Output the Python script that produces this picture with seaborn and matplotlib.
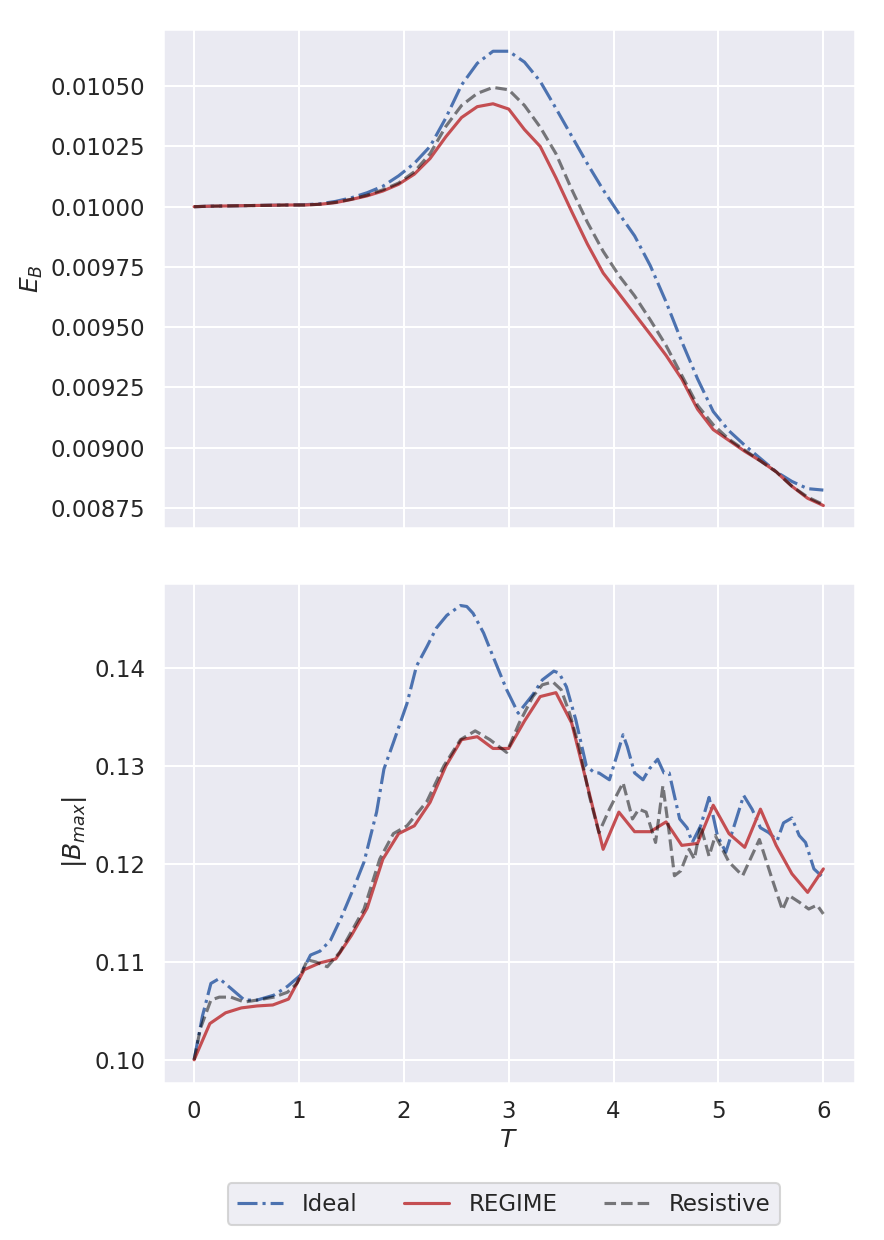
import numpy as np
import pandas as pd
import matplotlib
matplotlib.use("Agg")
import matplotlib.pyplot as plt
import seaborn as sns

# ---------------- data ----------------
t_coarse = [0.0, 0.15, 0.3, 0.45, 0.6, 0.75, 0.9, 1.05, 1.2, 1.35, 1.5, 1.65, 1.8, 1.95,
            2.1, 2.25, 2.4, 2.55, 2.7, 2.85, 3.0, 3.15, 3.3, 3.45, 3.6, 3.75, 3.9, 4.05,
            4.2, 4.35, 4.5, 4.65, 4.8, 4.95, 5.1, 5.25, 5.4, 5.55, 5.7, 5.85, 6.0]

eb_ideal = [0.010000, 0.010002, 0.010003, 0.010004, 0.010005, 0.010006, 0.010007, 0.010008,
            0.010012, 0.010022, 0.010037, 0.010058, 0.010085, 0.010128, 0.010180, 0.010250,
            0.010368, 0.010505, 0.010595, 0.010645, 0.010645, 0.010600, 0.010520, 0.010408,
            0.010293, 0.010178, 0.010070, 0.009972, 0.009879, 0.009755, 0.009605, 0.009440,
            0.009286, 0.009150, 0.009070, 0.009010, 0.008955, 0.008900, 0.008860, 0.008830,
            0.008824]
eb_regime = [0.010000, 0.010002, 0.010003, 0.010004, 0.010005, 0.010006, 0.010007, 0.010007,
             0.010010, 0.010017, 0.010030, 0.010045, 0.010065, 0.010093, 0.010135, 0.010200,
             0.010290, 0.010370, 0.010415, 0.010427, 0.010405, 0.010320, 0.010250, 0.010120,
             0.009980, 0.009845, 0.009725, 0.009640, 0.009555, 0.009470, 0.009383, 0.009285,
             0.009160, 0.009075, 0.009030, 0.008985, 0.008945, 0.008900, 0.008840, 0.008790,
             0.008760]
eb_resistive = [0.010000, 0.010002, 0.010003, 0.010004, 0.010005, 0.010006, 0.010007, 0.010007,
                0.010010, 0.010018, 0.010031, 0.010048, 0.010070, 0.010098, 0.010145, 0.010220,
                0.010333, 0.010420, 0.010470, 0.010495, 0.010485, 0.010420, 0.010330, 0.010220,
                0.010072, 0.009935, 0.009815, 0.009715, 0.009630, 0.009530, 0.009424, 0.009300,
                0.009176, 0.009095, 0.009035, 0.008990, 0.008945, 0.008900, 0.008840, 0.008795,
                0.008764]

bmax_regime = [0.1000, 0.1037, 0.1048, 0.1053, 0.1055, 0.1056, 0.1062, 0.1092, 0.1099, 0.1103,
               0.1127, 0.1155, 0.1205, 0.1231, 0.1239, 0.1263, 0.1300, 0.1327, 0.1330, 0.1318,
               0.1318, 0.1346, 0.1371, 0.1375, 0.1344, 0.1280, 0.1215, 0.1253, 0.1233, 0.1233,
               0.1243, 0.1219, 0.1221, 0.1260, 0.1231, 0.1217, 0.1256, 0.1219, 0.1190, 0.1171,
               0.1195]

t_ideal = [0.0, 0.08, 0.16, 0.24, 0.35, 0.48, 0.6, 0.76, 0.89, 1.01, 1.11, 1.2, 1.3, 1.41,
           1.52, 1.62, 1.74, 1.81, 1.9, 2.03, 2.12, 2.22, 2.31, 2.41, 2.54, 2.6, 2.66, 2.76,
           2.85, 2.98, 3.09, 3.23, 3.32, 3.43, 3.48, 3.55, 3.64, 3.74, 3.82, 3.86, 3.96, 4.04,
           4.09, 4.13, 4.2, 4.28, 4.34, 4.42, 4.48, 4.53, 4.63, 4.7, 4.75, 4.83, 4.91, 4.99,
           5.07, 5.17, 5.24, 5.32, 5.4, 5.48, 5.56, 5.62, 5.7, 5.77, 5.83, 5.91, 6.0]
bmax_ideal = [0.1000, 0.1045, 0.1078, 0.1083, 0.1073, 0.1061, 0.1061, 0.1066, 0.1075, 0.1086,
              0.1107, 0.1111, 0.1122, 0.1147, 0.1175, 0.1202, 0.1253, 0.1297, 0.1324, 0.1364,
              0.1402, 0.1422, 0.1441, 0.1454, 0.1464, 0.1463, 0.1456, 0.1436, 0.1412, 0.1378,
              0.1354, 0.1373, 0.1388, 0.1397, 0.1395, 0.1381, 0.1347, 0.1300, 0.1293, 0.1293,
              0.1286, 0.1314, 0.1332, 0.1320, 0.1293, 0.1286, 0.1297, 0.1307, 0.1293, 0.1293,
              0.1246, 0.1237, 0.1222, 0.1239, 0.1268, 0.1229, 0.1212, 0.1246, 0.1270, 0.1256,
              0.1237, 0.1232, 0.1224, 0.1242, 0.1247, 0.1229, 0.1222, 0.1195, 0.1186]

t_resistive = [0.0, 0.06, 0.16, 0.24, 0.35, 0.48, 0.6, 0.76, 0.89, 0.98, 1.08, 1.16, 1.27,
               1.39, 1.49, 1.62, 1.77, 1.9, 2.03, 2.22, 2.38, 2.54, 2.68, 2.82, 2.98, 3.1,
               3.23, 3.32, 3.42, 3.5, 3.58, 3.67, 3.77, 3.86, 3.96, 4.09, 4.18, 4.24, 4.31,
               4.4, 4.47, 4.53, 4.58, 4.64, 4.72, 4.77, 4.83, 4.91, 4.97, 5.1, 5.23, 5.39,
               5.51, 5.61, 5.67, 5.77, 5.86, 5.94, 6.0]
bmax_resistive = [0.1000, 0.1032, 0.1061, 0.1064, 0.1064, 0.1059, 0.1061, 0.1064, 0.1069, 0.1078,
                  0.1102, 0.1100, 0.1095, 0.1110, 0.1129, 0.1154, 0.1205, 0.1231, 0.1239, 0.1264,
                  0.1300, 0.1327, 0.1336, 0.1327, 0.1314, 0.1344, 0.1371, 0.1383, 0.1386, 0.1378,
                  0.1354, 0.1320, 0.1269, 0.1232, 0.1256, 0.1283, 0.1246, 0.1256, 0.1253, 0.1222,
                  0.1280, 0.1232, 0.1188, 0.1193, 0.1215, 0.1205, 0.1239, 0.1208, 0.1229, 0.1202,
                  0.1188, 0.1225, 0.1185, 0.1153, 0.1168, 0.1161, 0.1154, 0.1158, 0.1149]

labels = ["Ideal", "REGIME", "Resistive"]
x_ticks = [0, 1, 2, 3, 4, 5, 6]

# ---------------- style ----------------
sns.set_theme(context="talk", style="darkgrid")
plt.rcParams["font.family"] = ["DejaVu Sans"]

c_ideal = "#4C72B0"
c_regime = "#C44E52"
lw = 2.25

fig = plt.figure(figsize=(8.84, 12.4), dpi=100)
ax1 = fig.add_axes([0.184, 0.574, 0.783, 0.403])
ax2 = fig.add_axes([0.184, 0.127, 0.783, 0.403], sharex=ax1)

# top panel
sns.lineplot(x=t_coarse, y=eb_ideal, ax=ax1, color=c_ideal, lw=lw, linestyle="-.")
sns.lineplot(x=t_coarse, y=eb_regime, ax=ax1, color=c_regime, lw=lw, linestyle="-")
sns.lineplot(x=t_coarse, y=eb_resistive, ax=ax1, color="black", alpha=0.5, lw=lw, linestyle="--")
ax1.set_ylabel("$E_B$")
ax1.set_xlabel("")
ax1.yaxis.set_major_formatter(matplotlib.ticker.FormatStrFormatter("%.5f"))
ax1.set_yticks([0.00875, 0.00900, 0.00925, 0.00950, 0.00975, 0.01000, 0.01025, 0.01050])
plt.setp(ax1.get_xticklabels(), visible=False)

# bottom panel
sns.lineplot(x=t_ideal, y=bmax_ideal, ax=ax2, color=c_ideal, lw=lw, linestyle="-.", label=labels[0])
sns.lineplot(x=t_coarse, y=bmax_regime, ax=ax2, color=c_regime, lw=lw, linestyle="-", label=labels[1])
sns.lineplot(x=t_resistive, y=bmax_resistive, ax=ax2, color="black", alpha=0.5, lw=lw,
             linestyle="--", label=labels[2])
ax2.set_ylabel("$|B_{max}|$")
ax2.set_xlabel("$T$")
ax2.set_xticks(x_ticks)
ax2.set_yticks([0.10, 0.11, 0.12, 0.13, 0.14])
ax2.yaxis.set_major_formatter(matplotlib.ticker.FormatStrFormatter("%.2f"))

handles, labs = ax2.get_legend_handles_labels()
ax2.get_legend().remove()
fig.legend(handles, labs, loc="center", bbox_to_anchor=(0.570, 0.029), ncol=3,
           handlelength=2.0, columnspacing=2.0, handletextpad=0.85,
           frameon=True, borderpad=0.4)

fig.savefig("out.png", dpi=100)
